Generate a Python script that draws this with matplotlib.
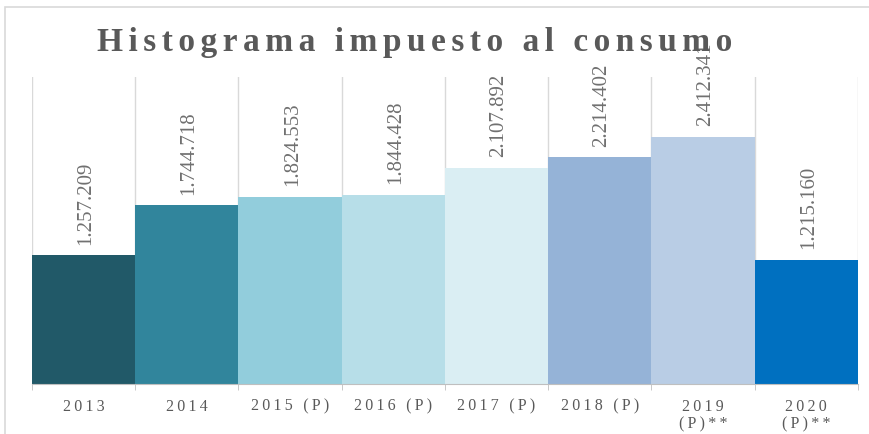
import numpy as np
import matplotlib.pyplot as plt
from matplotlib.patches import Rectangle

years = ['2013', '2014', '2015 (P)', '2016 (P)', '2017 (P)', '2018 (P)', '2019\n(P)**', '2020\n(P)**']
valores = [1257209, 1744718, 1824553, 1844428, 2107892, 2214402, 2412341, 1215160]
colores = ['#215968', '#31859C', '#92CDDC', '#B7DEE8', '#DAEEF3', '#95B3D7', '#B9CDE5', '#0070C0']
titulo = 'Histograma impuesto al consumo'


def espaciar(s, sep):
    # letter spacing like the Excel chart
    return '\n'.join(sep.join(line) for line in s.split('\n'))


fig = plt.figure(figsize=(8.7, 4.35), dpi=100)
fig.patches.append(Rectangle((5/870, -0.1), 1.2, 1 - 8/435 + 0.1, transform=fig.transFigure,
                             fill=False, edgecolor='#D9D9D9', linewidth=1.2))
ax = fig.add_axes([32/870, 50/435, 826/870, 307/435])

x_pos = np.arange(len(years))
bars = ax.bar(x_pos, valores, width=1.0, color=colores, zorder=2)
ax.set_xlim(-0.5, len(years) - 0.5)
ax.set_ylim(0, 3000000)

ax.set_xticks(x_pos)
ax.set_xticklabels([espaciar(y, '\u2009') for y in years], fontsize=11.5, color='#595959',
                   family=['Liberation Serif', 'DejaVu Serif'], linespacing=1.15)
ax.set_xticks(np.arange(-0.5, len(years)), minor=True)
ax.tick_params(axis='x', which='major', length=0, pad=10)
ax.tick_params(axis='x', which='minor', length=4, color='#BFBFBF')
ax.grid(axis='x', which='minor', color='#D9D9D9', linewidth=1, zorder=0)
ax.set_yticks([])
for s in ['top', 'left', 'right']:
    ax.spines[s].set_visible(False)
ax.spines['bottom'].set_color('#BFBFBF')

for rect, v in zip(bars, valores):
    lab = '{:,}'.format(v).replace(',', '.')
    ax.annotate(lab, xy=(rect.get_x() + rect.get_width() / 2, rect.get_height()),
                xytext=(1.5, 8.5), textcoords='offset points', ha='center', va='bottom',
                rotation=90, fontsize=15, color='#707070', family='Liberation Serif',
                annotation_clip=False)

fig.text(415/870, 1 - 42/435, espaciar(titulo, '\u2006'), ha='center', va='center',
         fontsize=24, fontweight='bold', color='#595959',
         family=['Liberation Serif', 'DejaVu Serif'])

fig.savefig('out.png', dpi=100)
